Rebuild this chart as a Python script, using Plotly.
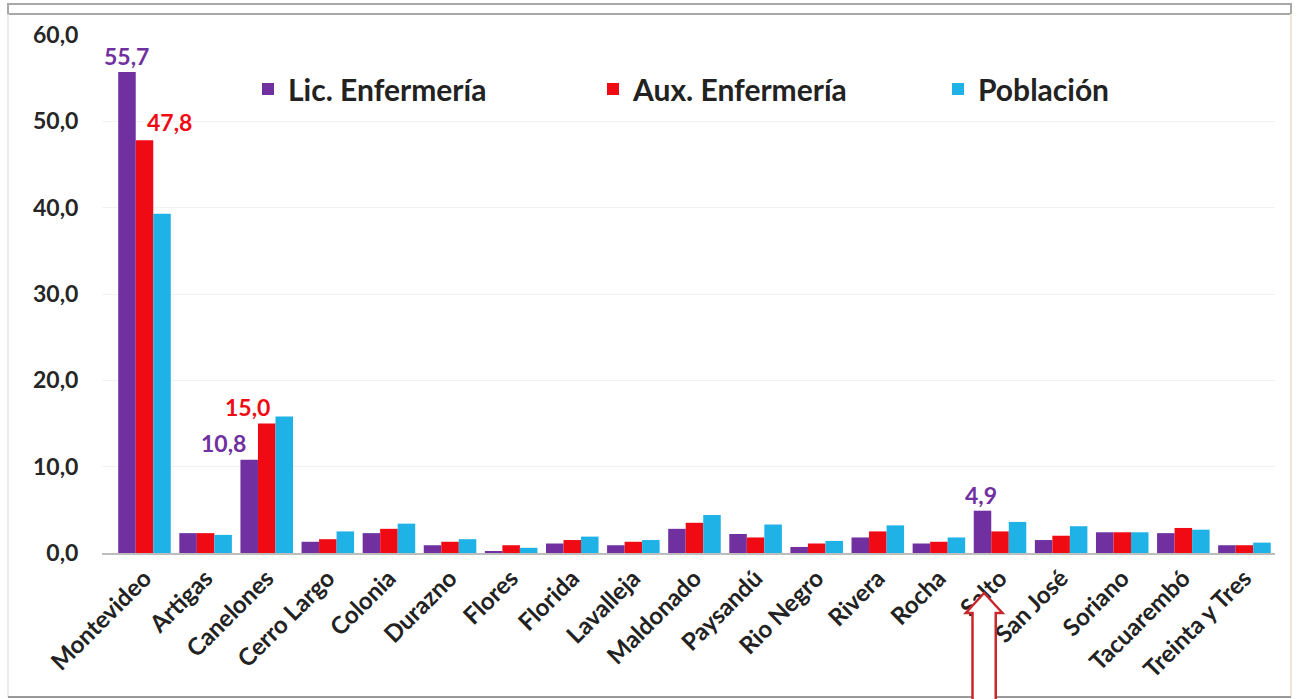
import plotly.graph_objects as go

# Departments of Uruguay and percentage shares per series
departamentos = [
    "Montevideo", "Artigas", "Canelones", "Cerro Largo", "Colonia", "Durazno",
    "Flores", "Florida", "Lavalleja", "Maldonado", "Paysandú", "Rio Negro",
    "Rivera", "Rocha", "Salto", "San José", "Soriano", "Tacuarembó", "Treinta y Tres",
]
lic_enfermeria = [55.7, 2.3, 10.8, 1.3, 2.3, 0.9, 0.2, 1.1, 0.9, 2.8, 2.2, 0.7,
                  1.8, 1.1, 4.9, 1.5, 2.4, 2.3, 0.9]
aux_enfermeria = [47.8, 2.3, 15.0, 1.6, 2.8, 1.3, 0.9, 1.5, 1.3, 3.5, 1.8, 1.1,
                  2.5, 1.3, 2.5, 2.0, 2.4, 2.9, 0.9]
poblacion = [39.3, 2.1, 15.8, 2.5, 3.4, 1.6, 0.6, 1.9, 1.5, 4.4, 3.3, 1.4,
             3.2, 1.8, 3.6, 3.1, 2.4, 2.7, 1.2]
y_ticks = [0, 10, 20, 30, 40, 50, 60]

PURPLE = "#7030A0"
RED = "#F00A14"
CYAN = "#1EB2E6"
FONT = "Lato"

W, H = 1300, 699
M_L, M_R, M_T, M_B = 102, 25, 35, 146
PW, PH = W - M_L - M_R, H - M_T - M_B


def px(x):
    return (x - M_L) / PW


def py(y):
    return (H - M_B - y) / PH


fig = go.Figure()
for name, vals, color in [
    ("Lic. Enfermería", lic_enfermeria, PURPLE),
    ("Aux. Enfermería", aux_enfermeria, RED),
    ("Población", poblacion, CYAN),
]:
    fig.add_trace(go.Bar(x=departamentos, y=vals, name=name,
                         marker=dict(color=color, line=dict(width=0))))


# value labels on selected bars
def lbl(dep, series, color, xshift, yshift):
    i = departamentos.index(dep)
    v = series[i]
    return dict(x=dep, y=v, text=f"{v:.1f}".replace(".", ","), showarrow=False,
                xshift=xshift, yshift=yshift, yanchor="bottom",
                font=dict(family=FONT, size=23, color=color, weight="bold"))


annotations = [
    lbl("Montevideo", lic_enfermeria, PURPLE, -18, 0),
    lbl("Montevideo", aux_enfermeria, RED, 25, 2),
    lbl("Canelones", lic_enfermeria, PURPLE, -43, 1),
    lbl("Canelones", aux_enfermeria, RED, -19, 1),
    lbl("Salto", lic_enfermeria, PURPLE, -19, 0),
]

salto = departamentos.index("Salto")
ac = salto - 0.26  # arrow centre, in category units
sw, hw = 0.19, 0.30
y_tip, y_base, y_end = py(593), py(613), py(705)
arrow_path = (
    f"M {ac - sw} {y_end} L {ac - sw} {y_base} L {ac - hw} {y_base} "
    f"L {ac} {y_tip} L {ac + hw} {y_base} L {ac + sw} {y_base} L {ac + sw} {y_end} Z"
)

shapes = [
    # outer frame
    dict(type="rect", xref="paper", yref="paper", x0=px(8), x1=px(1291), y0=py(14), y1=py(4),
         line=dict(color="#A8A8A8", width=2), fillcolor="white", layer="above"),
    dict(type="line", xref="paper", yref="paper", x0=px(8), x1=px(8), y0=py(14), y1=py(697),
         line=dict(color="#E4E4E4", width=1.5)),
    dict(type="line", xref="paper", yref="paper", x0=px(1291), x1=px(1291), y0=py(14), y1=py(697),
         line=dict(color="#EDE6D8", width=2)),
    dict(type="line", xref="paper", yref="paper", x0=px(8), x1=px(1291), y0=py(697), y1=py(697),
         line=dict(color="#9A9A9A", width=2)),
    # highlight arrow
    dict(type="path", xref="x", yref="paper", path=arrow_path,
         line=dict(color="#C8282C", width=2.5), fillcolor="white", layer="above"),
]

fig.update_layout(
    width=W, height=H,
    margin=dict(l=M_L, r=M_R, t=M_T, b=M_B, autoexpand=False),
    paper_bgcolor="white", plot_bgcolor="white",
    barmode="group", bargap=0.14, bargroupgap=0,
    separators=",.",
    font=dict(family=FONT, color="#262626"),
    legend=dict(orientation="h", x=px(248), y=py(89), xanchor="left", yanchor="middle",
                entrywidth=300, entrywidthmode="pixels",
                font=dict(family=FONT, size=30, color="#222222", weight="bold"),
                bgcolor="rgba(0,0,0,0)"),
    xaxis=dict(tickangle=-45, tickfont=dict(family=FONT, size=24, color="#222222", weight="bold"),
               showline=True, linecolor="#BDBDBD", linewidth=1.5, ticks="", showgrid=False,
               automargin=False),
    yaxis=dict(range=[0, 60], tickvals=y_ticks, tickformat=".1f",
               tickfont=dict(family=FONT, size=23, color="#262626", weight="bold"),
               showgrid=True, gridcolor="#F2F2F2", gridwidth=1, zeroline=False,
               ticks="outside", ticklen=18, tickcolor="rgba(0,0,0,0)", showline=False,
               automargin=False),
    annotations=annotations,
    shapes=shapes,
    showlegend=True,
)

fig.write_html("out.html")
